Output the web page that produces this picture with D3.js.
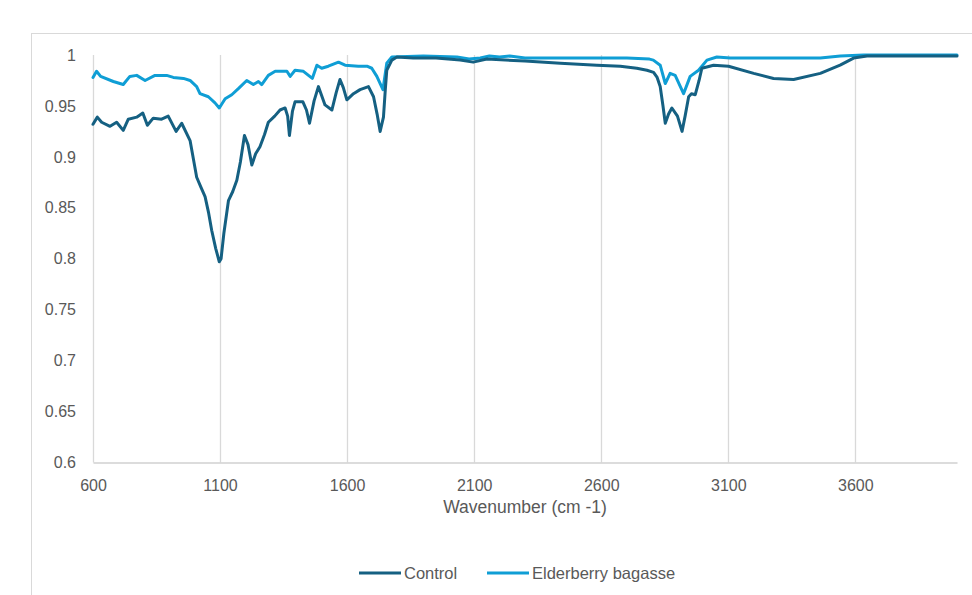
<!DOCTYPE html>
<html>
<head>
<meta charset="utf-8">
<script src="https://cdn.jsdelivr.net/npm/d3@7"></script>
<style>
  body { margin: 0; background: #fff; }
  text { font-family: "Liberation Sans", Arial, sans-serif; fill: #595959; }
</style>
</head>
<body>
<script>
// FTIR spectra, transmittance vs wavenumber
var controlWn = [600, 617, 634, 667, 693, 719, 739, 772, 796, 814, 837, 870, 896, 927, 949, 982, 1008, 1025, 1041, 1055, 1067, 1083, 1097, 1104, 1115, 1133, 1150, 1166, 1180, 1196, 1210, 1225, 1240, 1257, 1275, 1290, 1315, 1336, 1356, 1366, 1373, 1385, 1395, 1426, 1440, 1452, 1470, 1487, 1500, 1513, 1540, 1557, 1572, 1585, 1599, 1625, 1651, 1684, 1704, 1718, 1730, 1743, 1750, 1756, 1776, 1796, 1860, 1950, 2045, 2096, 2150, 2300, 2439, 2583, 2675, 2740, 2780, 2806, 2820, 2832, 2843, 2852, 2865, 2878, 2900, 2918, 2930, 2944, 2955, 2970, 2985, 2996, 3042, 3101, 3200, 3278, 3357, 3462, 3540, 3593, 3646, 3800, 4000];
var controlT = [0.932, 0.939, 0.934, 0.930, 0.934, 0.926, 0.937, 0.939, 0.943, 0.931, 0.938, 0.937, 0.940, 0.925, 0.933, 0.916, 0.880, 0.870, 0.861, 0.845, 0.828, 0.810, 0.797, 0.800, 0.825, 0.857, 0.866, 0.877, 0.895, 0.921, 0.912, 0.892, 0.903, 0.910, 0.922, 0.934, 0.940, 0.946, 0.948, 0.940, 0.921, 0.945, 0.954, 0.954, 0.946, 0.933, 0.955, 0.969, 0.960, 0.951, 0.946, 0.963, 0.976, 0.968, 0.956, 0.962, 0.966, 0.969, 0.959, 0.942, 0.925, 0.939, 0.965, 0.985, 0.995, 0.998, 0.997, 0.997, 0.995, 0.993, 0.996, 0.994, 0.992, 0.990, 0.989, 0.987, 0.985, 0.983, 0.978, 0.969, 0.950, 0.933, 0.942, 0.948, 0.940, 0.925, 0.940, 0.959, 0.962, 0.961, 0.975, 0.987, 0.990, 0.989, 0.982, 0.977, 0.976, 0.982, 0.990, 0.997, 0.999, 0.999, 0.999];

var elderWn = [600, 614, 630, 680, 719, 745, 772, 805, 844, 890, 916, 956, 982, 1008, 1021, 1054, 1080, 1097, 1120, 1146, 1172, 1205, 1231, 1251, 1264, 1290, 1317, 1363, 1376, 1395, 1428, 1463, 1481, 1500, 1526, 1566, 1592, 1644, 1678, 1697, 1717, 1741, 1756, 1776, 1900, 2032, 2080, 2124, 2160, 2200, 2240, 2300, 2450, 2596, 2701, 2790, 2805, 2832, 2852, 2871, 2891, 2924, 2950, 2983, 3016, 3055, 3108, 3462, 3541, 3633, 4000];
var elderT = [0.978, 0.984, 0.979, 0.974, 0.971, 0.979, 0.980, 0.975, 0.980, 0.980, 0.978, 0.977, 0.975, 0.969, 0.962, 0.959, 0.953, 0.948, 0.957, 0.961, 0.967, 0.975, 0.971, 0.974, 0.971, 0.980, 0.984, 0.984, 0.979, 0.985, 0.984, 0.977, 0.990, 0.987, 0.989, 0.993, 0.990, 0.989, 0.989, 0.987, 0.979, 0.966, 0.992, 0.998, 0.999, 0.998, 0.996, 0.997, 0.999, 0.998, 0.999, 0.997, 0.997, 0.997, 0.997, 0.996, 0.995, 0.990, 0.972, 0.982, 0.980, 0.962, 0.979, 0.985, 0.995, 0.998, 0.997, 0.997, 0.999, 1.000, 1.000];

var seriesNames = ["Control", "Elderberry bagasse"];
var seriesColors = ["#156082", "#0F9ED5"];
var xTicks = [600, 1100, 1600, 2100, 2600, 3100, 3600];
var yTicks = [0.6, 0.65, 0.7, 0.75, 0.8, 0.85, 0.9, 0.95, 1];

var W = 972, H = 595;
var plot = {left: 93, right: 957, top: 55, bottom: 462.5};

var svg = d3.select("body").append("svg")
  .attr("width", W)
  .attr("height", H);

svg.append("rect").attr("width", W).attr("height", H).attr("fill", "#fff");

// chart frame (runs off the right / bottom edge like the source)
svg.append("rect")
  .attr("x", 31.5).attr("y", 33.5)
  .attr("width", 1000).attr("height", 1000)
  .attr("fill", "none")
  .attr("stroke", "#d9d9d9");

var x = d3.scaleLinear().domain([600, 4000]).range([plot.left, plot.right]);
var y = d3.scaleLinear().domain([0.6, 1]).range([plot.bottom, plot.top]);

// vertical gridlines
svg.append("g").selectAll("line").data(xTicks).enter().append("line")
  .attr("x1", function(d){ return Math.round(x(d)) + 0.5; })
  .attr("x2", function(d){ return Math.round(x(d)) + 0.5; })
  .attr("y1", plot.top)
  .attr("y2", plot.bottom)
  .attr("stroke", "#d9d9d9")
  .attr("stroke-width", 1.3);

// x axis
var xAxis = svg.append("g")
  .attr("transform", "translate(0," + plot.bottom + ")")
  .call(d3.axisBottom(x).tickValues(xTicks).tickSize(0).tickPadding(17).tickFormat(d3.format("d")));
xAxis.select(".domain").attr("stroke", "#d0d0d0").attr("stroke-width", 1.5);
xAxis.selectAll("text").attr("font-size", 16).attr("fill", "#595959").attr("font-family", null);

// y axis labels only
var yAxis = svg.append("g")
  .attr("transform", "translate(" + plot.left + ",0)")
  .call(d3.axisLeft(y).tickValues(yTicks).tickSize(0).tickPadding(17).tickFormat(function(d){ return d3.format("")(+d.toFixed(2)); }));
yAxis.select(".domain").remove();
yAxis.selectAll("text").attr("font-size", 16).attr("fill", "#595959").attr("font-family", null);

svg.append("text")
  .attr("x", 525).attr("y", 513)
  .attr("text-anchor", "middle")
  .attr("font-size", 17.5)
  .text("Wavenumber (cm -1)");

var line = d3.line()
  .x(function(d){ return x(d[0]); })
  .y(function(d){ return y(d[1]); });

var series = [
  d3.zip(controlWn, controlT),
  d3.zip(elderWn, elderT)
];

// elderberry drawn last so it sits on top
[1, 0].forEach(function(i){
  svg.append("path")
    .datum(series[i])
    .attr("d", line)
    .attr("fill", "none")
    .attr("stroke", seriesColors[i])
    .attr("stroke-width", 3)
    .attr("stroke-linejoin", "round")
    .attr("stroke-linecap", "round");
});

// legend
var legendX = [359, 487];
var legend = svg.append("g").selectAll("g").data(seriesNames).enter().append("g")
  .attr("transform", function(d, i){ return "translate(" + legendX[i] + ",573)"; });
legend.append("line")
  .attr("x1", 0).attr("x2", 42)
  .attr("stroke", function(d, i){ return seriesColors[i]; })
  .attr("stroke-width", 3);
legend.append("text")
  .attr("x", 45).attr("y", 5.5)
  .attr("font-size", 16.5)
  .text(function(d){ return d; });
</script>
</body>
</html>
